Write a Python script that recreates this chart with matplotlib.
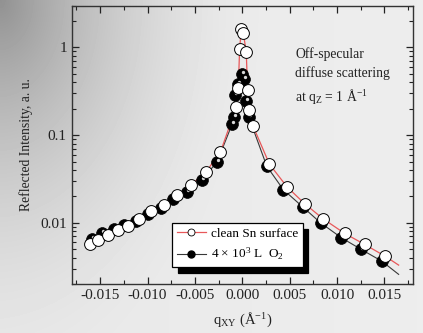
import numpy as np
import matplotlib
matplotlib.use("Agg")
import matplotlib.pyplot as plt
import matplotlib.transforms as mtrans
from matplotlib.lines import Line2D
from matplotlib.ticker import FixedLocator, MultipleLocator, LogLocator, NullFormatter

plt.rcParams['font.family'] = ['Liberation Serif', 'DejaVu Serif']
plt.rcParams['mathtext.fontset'] = 'custom'
plt.rcParams['mathtext.rm'] = 'Liberation Serif'
plt.rcParams['mathtext.it'] = 'Liberation Serif:italic'

# clean Sn surface (open circles), q in 1/A
clean_q = [-0.0161, -0.0152, -0.0142, -0.0131, -0.0121, -0.0109, -0.00958, -0.00825,
           -0.00685, -0.00538, -0.00381, -0.00231, -0.00063, -0.00042, -0.00028, -0.00010,
           0.00010, 0.00042, 0.00056, 0.00070, 0.00112, 0.00287, 0.00472, 0.00661,
           0.00853, 0.0108, 0.0129, 0.0151]
clean_I = [0.00577, 0.00635, 0.00718, 0.00826, 0.00924, 0.0110, 0.0135, 0.0159,
           0.0205, 0.0271, 0.0384, 0.0638, 0.21, 0.345, 0.96, 1.62,
           1.48, 0.89, 0.33, 0.195, 0.128, 0.0466, 0.0257, 0.0164,
           0.0111, 0.00757, 0.00567, 0.00414]

# after 4x10^3 L O2 (black balls)
ox_q = [-0.01587, -0.01483, -0.01357, -0.01245, -0.01122, -0.0100, -0.0086, -0.00727,
        -0.0058, -0.00423, -0.00266, -0.00105, -0.00089, -0.00073, -0.0005, 0.0,
        0.00016, 0.00042, 0.00068, 0.00259, 0.00433, 0.00637, 0.00826, 0.01046,
        0.01256, 0.01472]
ox_I = [0.00655, 0.00769, 0.0084, 0.00933, 0.01045, 0.01265, 0.01468, 0.01845,
        0.0223, 0.0311, 0.0495, 0.135, 0.162, 0.289, 0.38, 0.50,
        0.44, 0.247, 0.162, 0.0441, 0.0239, 0.0152, 0.0100, 0.00675,
        0.00496, 0.00365]

# where the fit lines start and stop
line_q_ends = [-0.0165, 0.0165]
clean_line_ends = [0.0056, 0.00329]
ox_line_ends = [0.0062, 0.00258]

red = '#e8585a'
dark = '#383838'

fig = plt.figure(figsize=(4.23, 3.33), dpi=100)

# grey backdrop, darker towards the top-left corner
bg = fig.add_axes([0, 0, 1, 1], zorder=-10)
yy, xx = np.mgrid[0:333, 0:423]
d = np.sqrt((xx * 1.25) ** 2 + (yy * 0.85) ** 2)
shade = 0.91 - 0.34 * np.clip(1 - d / 330.0, 0, 1) ** 1.8 + 0.02 * (xx / 423.0)
bg.imshow(shade, cmap='gray', vmin=0, vmax=1, aspect='auto', interpolation='bilinear')
bg.axis('off')

ax = fig.add_axes([0.1695, 0.147, 0.8065, 0.836])
ax.patch.set_alpha(0)

lq_c = np.r_[line_q_ends[0], clean_q, line_q_ends[1]]
li_c = np.r_[clean_line_ends[0], clean_I, clean_line_ends[1]]
lq_o = np.r_[line_q_ends[0], ox_q, line_q_ends[1]]
li_o = np.r_[ox_line_ends[0], ox_I, ox_line_ends[1]]

ax.plot(lq_o, li_o, color=dark, lw=0.8, zorder=2)
ax.plot(lq_c, li_c, color=red, lw=0.9, zorder=2)

ax.plot(ox_q, ox_I, 'o', ms=8.5, mfc='black', mec='black', mew=0.5, zorder=3)
hl = mtrans.offset_copy(ax.transData, fig=fig, x=0.7, y=1.4, units='points')
ax.plot(ox_q, ox_I, 'o', ms=2.4, mfc='#d8d8d8', mec='none', transform=hl, zorder=3.5)

ax.plot(clean_q, clean_I, 'o', ms=8.5, mfc='white', mec='black', mew=0.7, zorder=4)

ax.set_yscale('log')
ax.set_xlim(-0.018, 0.018)
ax.set_ylim(0.002, 3.0)

ax.xaxis.set_major_locator(FixedLocator([-0.015, -0.010, -0.005, 0.0, 0.005, 0.010, 0.015]))
ax.xaxis.set_minor_locator(MultipleLocator(0.0025))
ax.set_xticklabels(['-0.015', '-0.010', '-0.005', '0.000', '0.005', '0.010', '0.015'])
ax.yaxis.set_major_locator(FixedLocator([0.01, 0.1, 1]))
ax.set_yticklabels(['0.01', '0.1', '1'])
ax.yaxis.set_minor_locator(LogLocator(base=10, subs=np.arange(2, 10)))
ax.yaxis.set_minor_formatter(NullFormatter())

ax.tick_params(which='both', direction='in', top=True, right=True, colors='#222222',
               labelsize=11, labelcolor='#222222')
ax.tick_params(which='major', length=5, width=0.9)
ax.tick_params(which='minor', length=3, width=0.8)
for s in ax.spines.values():
    s.set_color('#333333')
    s.set_linewidth(1.0)

ax.set_ylabel('Reflected Intensity, a. u.', fontsize=9.8, color='#222222', labelpad=5)
ax.set_xlabel(r'q$_\mathregular{XY}$ ($\mathregular{\AA^{-1}}$)', fontsize=10.5,
              color='#222222', labelpad=6)

ax.text(0.655, 0.85, 'Off-specular\ndiffuse scattering\n' + r'at q$_\mathregular{Z}$ = 1 $\mathregular{\AA^{-1}}$',
        transform=ax.transAxes, fontsize=9.8, color='#222222', va='top', ha='left',
        linespacing=1.5)

h_clean = Line2D([], [], color=red, lw=0.9, marker='o', ms=5, mfc='white', mec='black', mew=0.6)
h_ox = Line2D([], [], color=dark, lw=0.8, marker='o', ms=5, mfc='black', mec='black')
leg = ax.legend([h_clean, h_ox], ['clean Sn surface', r'4 $\times$ 10$^\mathregular{3}$ L  O$_\mathregular{2}$'],
                loc='lower left', bbox_to_anchor=(0.294, 0.061), borderaxespad=0,
                fontsize=9.5, frameon=True, fancybox=False, framealpha=1,
                edgecolor='black', handlelength=2.2, handletextpad=0.4,
                borderpad=0.35, labelspacing=0.45,
                shadow={'color': 'black', 'alpha': 1, 'ox': 4, 'oy': -4})
leg.get_frame().set_linewidth(0.9)
leg.set_zorder(6)

fig.savefig('out.png', dpi=100)
